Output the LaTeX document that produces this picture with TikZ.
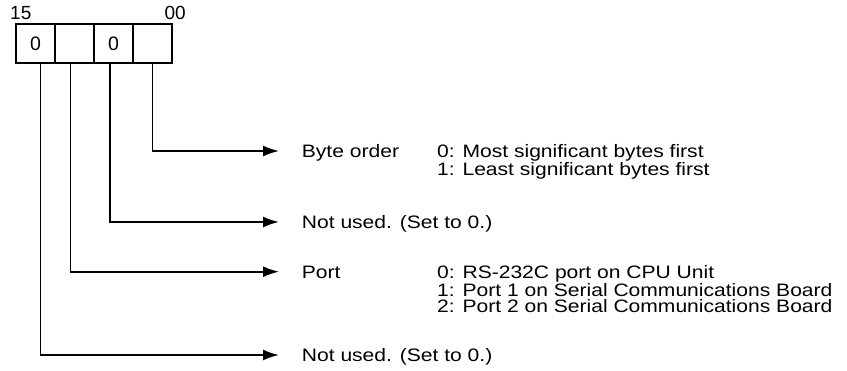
\documentclass[tikz,border=0pt]{standalone}
\usepackage{fontspec}
\setmainfont{Liberation Sans}[FakeStretch=1.17]
\newfontfamily\bitfont{Liberation Sans}
\usetikzlibrary{arrows.meta, positioning}
\tikzset{
  bitcell/.style={draw, line width=1.8pt, minimum width=39pt, minimum height=39pt,
                  inner sep=0pt, outer sep=0pt, font=\bitfont\fontsize{19.5}{19.5}\selectfont},
  bitnum/.style={inner sep=0pt, font=\bitfont\fontsize{19}{19}\selectfont},
  fieldlbl/.style={inner sep=0pt, anchor=west, text height=13pt, text depth=0pt,
                   font=\fontsize{18}{16.5}\selectfont},
  fieldval/.style={inner sep=0pt, anchor=north west, align=left,
                   font=\fontsize{18}{16.5}\selectfont},
  fieldarr/.style={line width=1.8pt, -{Latex[length=16pt,width=11pt]}},
}
\begin{document}
\begin{tikzpicture}[x=1pt, y=-1pt]
\useasboundingbox (0,0) rectangle (847,371);
% word layout, bit 15 on the left
\node[bitcell] (c1) at (35.5,43.5) {0};
\node[bitcell, right=0pt of c1] (c2) {};
\node[bitcell, right=0pt of c2] (c3) {0};
\node[bitcell, right=0pt of c3] (c4) {};
\node[bitnum, anchor=base west] (n15) at ([xshift=-6pt,yshift=4pt]c1.north west) {15};
\node[bitnum, anchor=base east] (n00) at ([xshift=14pt,yshift=4pt]c4.north east) {00};

% field descriptions
\node[fieldlbl] (lorder) at (301.7,151) {Byte order};
\node[fieldval] (vorder) at ([xshift=135.3pt]lorder.north west) {0: Most significant bytes first\\1: Least significant bytes first};
\node[fieldlbl] (lunused1) at (301.7,222) {Not used. (Set to 0.)};
\node[fieldlbl] (lport) at (301.7,271.7) {Port};
\node[fieldval] (vport) at ([xshift=135.3pt]lport.north west) {0: RS-232C port on CPU Unit\\1: Port 1 on Serial Communications Board\\2: Port 2 on Serial Communications Board};
\node[fieldlbl] (lunused2) at (301.7,355) {Not used. (Set to 0.)};

\draw[fieldarr] (c4.south) |- ([xshift=-22.7pt]lorder.west);
\draw[fieldarr] ([xshift=-3.5pt]c3.south) |- ([xshift=-22.7pt]lunused1.west);
\draw[fieldarr] ([xshift=-4pt]c2.south) |- ([xshift=-22.7pt]lport.west);
\draw[fieldarr] ([xshift=5pt]c1.south) |- ([xshift=-22.7pt]lunused2.west);
\end{tikzpicture}
\end{document}
